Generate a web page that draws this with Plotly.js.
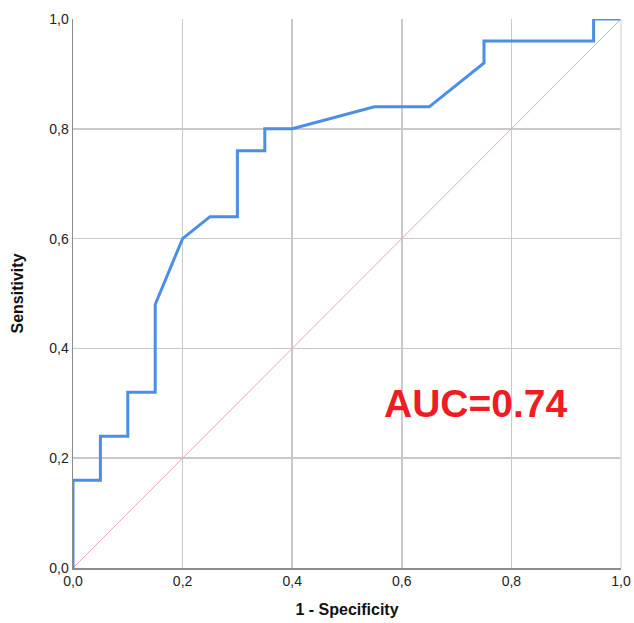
<!DOCTYPE html>
<html>
<head>
<meta charset="utf-8">
<script src="https://cdn.plot.ly/plotly-3.0.1.min.js"></script>
<style>html,body{margin:0;padding:0;background:#fff;}#chart{width:634px;height:623px;}</style>
</head>
<body>
<div id="chart"></div>
<script>
const fpr = [0, 0, 0.05, 0.05, 0.10, 0.10, 0.15, 0.15, 0.20, 0.25, 0.30, 0.30, 0.35, 0.35, 0.40, 0.55, 0.65, 0.75, 0.75, 0.95, 0.95, 1.0];
const tpr = [0, 0.16, 0.16, 0.24, 0.24, 0.32, 0.32, 0.48, 0.60, 0.64, 0.64, 0.76, 0.76, 0.80, 0.80, 0.84, 0.84, 0.92, 0.96, 0.96, 1.0, 1.0];
const refX = [0, 1];
const refY = [0, 1];
const tickVals = [0, 0.2, 0.4, 0.6, 0.8, 1.0];
const aucLabel = "AUC=0.74";

const traces = [
  {x: refX, y: refY, mode: 'lines', line: {color: '#f5a3b3', width: 1}, hoverinfo: 'skip'},
  {x: fpr, y: tpr, mode: 'lines', line: {color: '#4a8fe3', width: 3}}
];

const axisCommon = {
  range: [0, 1], tickvals: tickVals, tickformat: '.1f',
  showgrid: true, gridcolor: '#c9c9c9', gridwidth: 1.5,
  zeroline: false, showline: true, linecolor: '#8c8c8c', linewidth: 1.5,
  ticks: '', tickfont: {family: 'Liberation Sans, Arial', size: 14, color: '#222'},
  fixedrange: true
};

const layout = {
  width: 634, height: 623,
  margin: {l: 73, r: 13, t: 19, b: 55},
  separators: ',.',
  showlegend: false,
  paper_bgcolor: '#fff', plot_bgcolor: '#fff',
  xaxis: Object.assign({}, axisCommon, {
    title: {text: '<b>1 - Specificity</b>', font: {family: 'Liberation Sans, Arial', size: 16, color: '#111'}, standoff: 15}
  }),
  yaxis: Object.assign({}, axisCommon, {
    title: {text: '<b>Sensitivity</b>', font: {family: 'Liberation Sans, Arial', size: 16, color: '#111'}, standoff: 21}
  }),
  annotations: [{
    x: 0.735, y: 0.30, xref: 'x', yref: 'y', text: '<b>' + aucLabel + '</b>', showarrow: false,
    font: {family: 'Liberation Sans, Arial', size: 39, color: '#ee1c24'}
  }],
  shapes: [
    {type: 'line', xref: 'paper', yref: 'paper', x0: 1, x1: 1, y0: 0, y1: 1, line: {color: '#dcdcdc', width: 1.5}}
  ]
};

Plotly.newPlot('chart', traces, layout, {displayModeBar: false, staticPlot: true});
</script>
</body>
</html>
